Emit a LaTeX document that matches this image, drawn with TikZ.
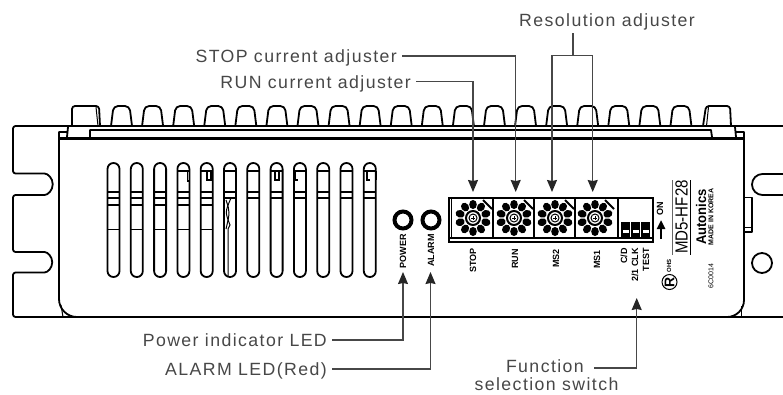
\documentclass[tikz,border=0pt]{standalone}
\usepackage{fontspec}
\setmainfont{Liberation Sans}
\newfontfamily\calloutfont[LetterSpace=8]{Liberation Sans}
\usetikzlibrary{arrows.meta}
\definecolor{leadgray}{gray}{0.28}
\tikzset{
  partline/.style={line width=1.8pt, line join=round},
  heavyline/.style={line width=3pt},
  thinline/.style={line width=1pt},
  leader/.style={draw=leadgray, line width=1.2pt},
  tipped/.style={leader, -{Stealth[inset=1pt,width=10pt,length=12pt,color=black!85]}},
  callout/.style={font=\calloutfont\fontsize{17.7}{20}\selectfont, text=leadgray, inner xsep=5pt, inner ysep=0pt, text height=13pt, text depth=0pt},
  printed/.style={font=\fontsize{9}{9}\selectfont\bfseries, rotate=90, inner sep=0pt, anchor=east},
}
\begin{document}
\begin{tikzpicture}[x=1pt,y=-1pt]
  \useasboundingbox (0,0) rectangle (783,394);

  \draw[partline,rounded corners=2.5pt] (783,126) -- (13,126) -- (13,173.5) -- (42,173.5) arc (-90:90:10.75) -- (13,195) -- (13,252) -- (42,252) arc (-90:90:10.25) -- (13,272.5) -- (13,317) -- (783,317);
  \draw[partline] (783,174) -- (762.5,174) arc (-90:-270:10.5) -- (783,195);
  \draw[partline] (762,263) circle (10);
  \draw[partline] (744,197.5) -- (752,197.5) -- (752,232) -- (744,232);
  \draw[thinline] (744,227) -- (752,227);

  \draw[partline] (67,132) -- (59,132) -- (59,299) arc (180:90:18);
  \draw[partline] (736,132) -- (744,132) -- (744,300) arc (0:90:17);
  \draw[thinline] (61,305) -- (63,317);
  \draw[thinline] (741.5,306) -- (741.5,317);
  \draw[heavyline] (59,138) -- (744,138);
  \draw[partline] (90,137) -- (90,130) -- (711,130) -- (712,137);
  \draw[partline] (68,127) -- (67,137);
  \draw[partline] (735,127) -- (736,137);

  \foreach \i in {0,...,18} {
    \pgfmathsetmacro\finx{121.5+31.08*\i}
    \draw[partline,rounded corners=4.5pt] (\finx-10.5,126) -- (\finx-8,106) -- (\finx+8,106) -- (\finx+10.5,126);
  }
  \draw[partline,rounded corners=3pt] (72,126) -- (72,106) -- (99,106) -- (100,126);
  \draw[thinline] (96,107) -- (98,126);
  \draw[partline,rounded corners=3pt] (703,126) -- (706,106) -- (730,106) -- (731,126);
  \draw[thinline] (706.5,126) -- (708.5,107);

  \foreach \i in {0,...,11} {
    \pgfmathsetmacro\slotx{113.5+23.3*\i}
    \draw[partline,rounded corners=5.9pt] (\slotx-6,163) rectangle (\slotx+6,277);
    \draw[partline] (\slotx-6,192) -- (\slotx+6,192);
    \draw[partline] (\slotx-6,198) -- (\slotx+6,198);
  }
  \foreach \i in {0,...,4} {
    \pgfmathsetmacro\slotx{113.5+23.3*\i}
    \draw[partline] (\slotx-6,205) -- (\slotx+6,205);
    \draw[thinline] (\slotx-6,229) -- (\slotx+6,229);
  }
  \foreach \i in {3,...,11} {
    \pgfmathsetmacro\slotx{113.5+23.3*\i}
    \draw[partline] (\slotx-5.5,171) -- (\slotx+5.5,171);
  }
  \draw[line width=1.3pt] (187.5,171) -- (187.5,181) -- (189,181);
  \draw[line width=1.3pt] (207,171) -- (207,180) -- (211,180) -- (211,171);
  \draw[line width=1.3pt] (275,171) -- (275,180) -- (279,180) -- (279,171);
  \draw[line width=1.3pt] (295,171) -- (295,180) -- (298,180);
  \draw[line width=1.3pt] (367,171) -- (367,180) -- (370,180);
  \draw[line width=1.3pt] (376,171) -- (376,180);
  \draw[thinline] (231,198) .. controls (225,212) .. (230,225) -- (228,229) -- (228,276);
  \draw[thinline] (226,200) .. controls (230,212) .. (226,229);

  \draw[line width=4pt] (403,220) circle (8.5);
  \draw[line width=4pt] (431,220) circle (8.5);
  \node[printed] (powerprint) at (403,234) {POWER};
  \node[printed] (alarmprint) at (431,234) {ALARM};

  \draw[line width=2pt] (449,198) rectangle (653,242);
  \draw[line width=2pt] (449,237.5) -- (653,237.5);
  \draw[thinline] (451.5,198) -- (451.5,238);
  \foreach \cellx in {493,534,575,618} {
    \draw[line width=2pt] (\cellx,198) -- (\cellx,238);
  }
  \foreach \dialx in {473,514,555,595} {
    \foreach \a in {-90,-54,...,234} {
      \fill[shift={(\dialx,218)},rotate=\a] (13.5,0) ellipse (4.6 and 3.8);
    }
    \fill[white] (\dialx,218) circle (9);
    \draw[line width=2pt] (\dialx,218) circle (7);
    \draw[thinline] (\dialx,218) circle (4);
    \draw[thinline] (\dialx-2,218) -- (\dialx+2,218);
    \draw[thinline] (\dialx,216) -- (\dialx,220);
    \draw[line width=1.8pt] (\dialx+10,200) -- (\dialx+19,209);
  }
  \foreach \dipx in {621,631,641} {
    \fill (\dipx,222) rectangle (\dipx+9,237);
    \fill[white] (\dipx+1.5,230) rectangle (\dipx+7.5,232.5);
  }
  \draw[line width=2.5pt,-{Triangle[width=8pt,length=9pt]}] (661,239) -- (661,220);

  \node[printed] (onprint) at (660,202) {ON};
  \node[printed] (stopprint) at (473,248) {STOP};
  \node[printed] (runprint) at (515,249) {RUN};
  \node[printed] (mstwoprint) at (556,249) {MS2};
  \node[printed] (msoneprint) at (597,250) {MS1};
  \node[printed] (cdprint) at (624,248) {C/D};
  \node[printed] (clkprint) at (635,248) {2/1 CLK};
  \node[printed] (testprint) at (646,248) {TEST};

  \draw[line width=0.8pt,black!60] (672.5,180) -- (672.5,255);
  \draw[line width=1pt] (690.5,180) -- (690.5,255);
  \node[font=\fontsize{17.5}{18}\selectfont,rotate=90,inner sep=0pt] (modelprint) at (681.5,217) {\scalebox{0.86}[1]{MD5-HF28}};
  \node[font=\fontsize{14}{14}\selectfont\bfseries,rotate=90,inner sep=0pt] (brandprint) at (701,217) {\scalebox{0.93}[1]{Autonics}};
  \node[font=\fontsize{7}{7}\selectfont\bfseries,rotate=90,inner sep=0pt] (madeprint) at (711,217) {MADE IN KOREA};
  \node[font=\fontsize{7}{7}\selectfont,rotate=90,inner sep=0pt] (lotprint) at (711,276) {6C0014};
  \draw[thinline] (669.5,282) circle (7.5);
  \node[font=\fontsize{14}{14}\selectfont\bfseries,rotate=90,inner sep=0pt] (rohsprint) at (669.5,282) {R};
  \node[font=\fontsize{6}{7}\selectfont\bfseries,rotate=90,inner sep=0pt] (ohsprint) at (669,266) {OHS};

  \node[callout,anchor=east] (runlabel) at (416,81.7) {RUN current adjuster};
  \node[callout,anchor=east] (stoplabel) at (402,56) {STOP current adjuster};
  \node[callout,inner ysep=7pt] (reslabel) at (607,19.5) {Resolution adjuster};
  \node[callout,anchor=east] (powerlabel) at (332,340) {Power indicator LED};
  \node[callout,anchor=east] (alarmlabel) at (332,369) {ALARM LED(Red)};
  \node[callout,anchor=east,inner xsep=10pt,text depth=4pt] (funclabel) at (594,368) {Function};
  \node[callout] (selectlabel) at (546.5,384) {selection switch};

  \coordinate (runtip) at (473,192);
  \coordinate (stoptip) at (515.7,192);
  \coordinate (mstwotip) at (552,192);
  \coordinate (msonetip) at (592.7,192);
  \coordinate (powertip) at (403,272);
  \coordinate (alarmtip) at (430.5,272);
  \coordinate (functip) at (636.7,298);
  \coordinate (resjoin) at (573,55.5);

  \draw[tipped] (runlabel.east) -| (runtip);
  \draw[tipped] (stoplabel.east) -| (stoptip);
  \draw[leader] (reslabel.south -| resjoin) -- (resjoin);
  \draw[tipped] (resjoin) -| (mstwotip);
  \draw[tipped] (resjoin) -| (msonetip);
  \draw[tipped] (powerlabel.east) -| (powertip);
  \draw[tipped] (alarmlabel.east) -| (alarmtip);
  \draw[tipped] (funclabel.east) -| (functip);
\end{tikzpicture}
\end{document}
